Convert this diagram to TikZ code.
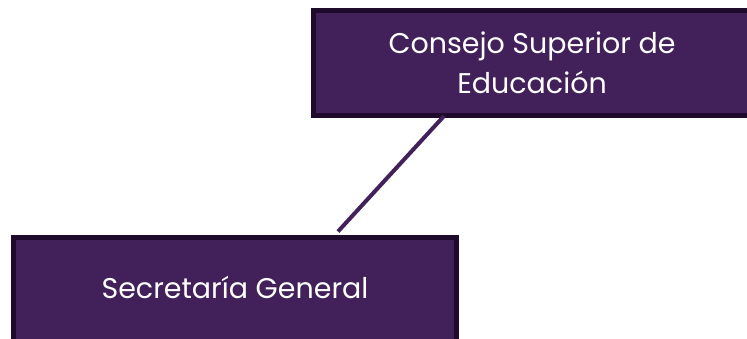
\documentclass[tikz,border=0pt]{standalone}
\usepackage{fontspec}
\setmainfont{Poppins}
\definecolor{morado}{HTML}{42205A}
\definecolor{bordeoscuro}{HTML}{1E0B2B}
\tikzset{
  caja/.style={draw=bordeoscuro, fill=morado, line width=5pt, text=white,
    align=center, font=\fontsize{28.5}{38}\selectfont},
  enlace/.style={draw=morado, line width=4pt}
}
\begin{document}
\begin{tikzpicture}[x=1pt,y=1pt]
\useasboundingbox (0,0) rectangle (747,338);
\clip (0,0) rectangle (747,338);
%Consejo
\coordinate (C) at (532,275);
\node[caja, minimum width=437pt, minimum height=105pt] (consejo) at (C)
  {\raisebox{2pt}{Consejo Superior de}\\Educación};

%Secretaria
\coordinate (S) at (235,48.5);
\node[caja, minimum width=443pt, minimum height=105pt] (secretaria) at (S)
  {\raisebox{5pt}{Secretaría General}};

%linea
\draw[enlace] ([xshift=-88pt, yshift=2pt]consejo.south)
  -- ([xshift=103pt, yshift=3pt]secretaria.north);
\end{tikzpicture}
\end{document}
